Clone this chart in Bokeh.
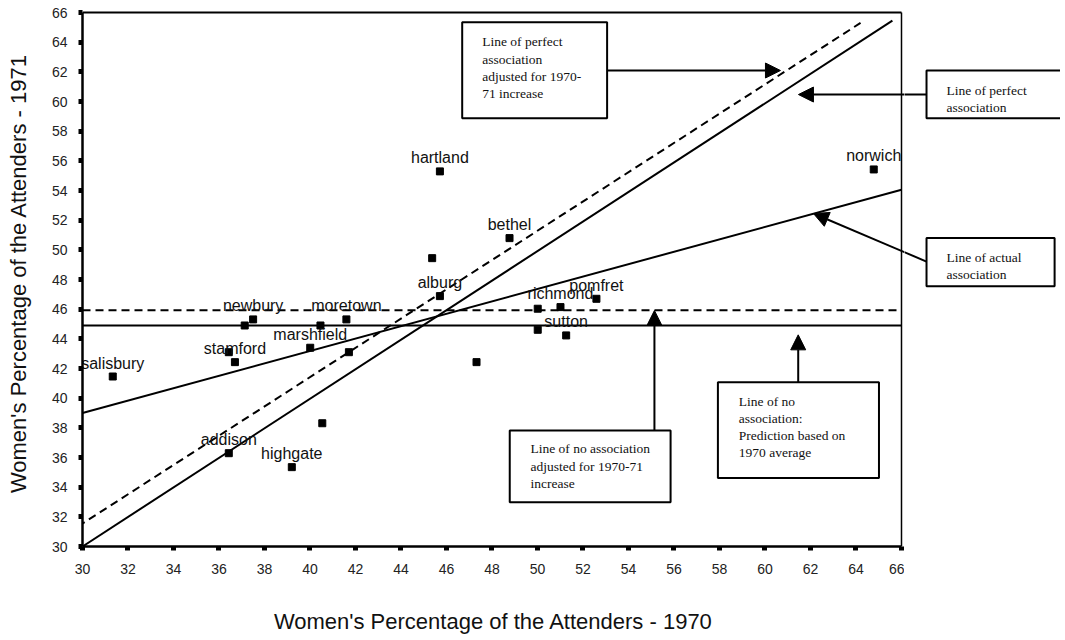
from bokeh.plotting import figure
from bokeh.layouts import row
from bokeh.models import Range1d, FixedTicker, Arrow, NormalHead, ColumnDataSource
from bokeh.core.properties import value
from bokeh.embed import file_html
from bokeh.resources import INLINE

# ---- data ----
pct_1970 = [31.33, 37.13, 37.50, 36.43, 36.70, 40.46, 41.60, 40.01, 41.71, 40.54,
            36.43, 39.20, 45.71, 45.37, 45.71, 48.77, 47.32, 50.01, 51.01, 50.01,
            51.26, 52.59, 64.78]
pct_1971 = [41.46, 44.90, 45.31, 43.10, 42.43, 44.90, 45.31, 43.40, 43.10, 38.31,
            36.29, 35.35, 55.29, 49.44, 46.88, 50.79, 42.43, 46.03, 46.14, 44.61,
            44.23, 46.70, 55.42]
town_names = ["salisbury", "", "newbury", "", "stamford", "", "moretown", "marshfield", "", "",
              "addison", "highgate", "hartland", "", "alburg", "bethel", "", "", "richmond", "",
              "sutton", "pomfret", "norwich"]

axis_ticks = list(range(30, 67, 2))

# reference lines
perfect_x = [30.0, 65.6]
perfect_y = [30.0, 65.45]
perfect_adj_x = [29.8, 64.2]
perfect_adj_y = [31.35, 65.3]
actual_x = [30.0, 66.0]
actual_y = [39.0, 54.05]
no_assoc_x = [30.0, 66.0]
no_assoc_y = [44.9, 44.9]
no_assoc_adj_x = [30.0, 65.8]
no_assoc_adj_y = [45.92, 45.92]

# annotation boxes: inside plot area (main) and right of it (side)
main_box_left = [46.69, 48.78, 57.93]
main_box_right = [53.06, 55.85, 65.01]
main_box_top = [65.35, 37.82, 41.08]
main_box_bottom = [58.88, 32.99, 34.61]
main_box_text = ["Line of perfect\nassociation\nadjusted for 1970-\n71 increase",
                 "Line of no association\nadjusted for 1970-71\nincrease",
                 "Line of no\nassociation:\nPrediction based on\n1970 average"]
main_text_x = [47.57, 49.69, 58.85]
main_text_y = [64.52, 37.08, 40.27]

side_box_left = [67.10, 67.10]
side_box_right = [76.0, 72.73]
side_box_top = [62.09, 50.79]
side_box_bottom = [58.88, 47.55]
side_box_text = ["Line of perfect\nassociation",
                 "Line of actual\nassociation"]
side_text_x = [67.98, 67.98]
side_text_y = [61.28, 50.0]

main_arrows = [(53.06, 62.09, 60.68, 62.09),
               (55.14, 37.82, 55.14, 45.91),
               (61.46, 41.08, 61.46, 44.27)]
cross_arrows = [(67.10, 60.47, 61.47, 60.47),
                (67.10, 49.21, 62.13, 52.45)]

SANS = "Liberation Sans"
SERIF = "Liberation Serif"

XSPLIT = 66.132
y_rng = Range1d(30, 66.81)

p = figure(width=904, height=636,
           x_range=Range1d(30, XSPLIT), y_range=y_rng,
           output_backend="svg", toolbar_location=None,
           min_border_left=82, min_border_right=0, min_border_top=0, min_border_bottom=90)
p2 = figure(width=156, height=636,
            x_range=Range1d(XSPLIT, XSPLIT + 156 / 22.75), y_range=y_rng,
            output_backend="svg", toolbar_location=None,
            x_axis_location=None, y_axis_location=None,
            min_border_left=0, min_border_right=0, min_border_top=0, min_border_bottom=90)
for fig in (p, p2):
    fig.background_fill_color = "white"
    fig.border_fill_color = "white"
    fig.outline_line_color = None
    fig.xgrid.visible = False
    fig.ygrid.visible = False

for ax in (p.xaxis[0], p.yaxis[0]):
    ax.bounds = (30, 66)
    ax.ticker = FixedTicker(ticks=axis_ticks)
    ax.axis_line_width = 2.5
    ax.axis_line_color = "black"
    ax.major_tick_in = 0
    ax.major_tick_out = 4
    ax.major_tick_line_width = 5
    ax.major_tick_line_color = "black"
    ax.minor_tick_line_color = None
    ax.major_label_text_font = SANS
    ax.major_label_text_font_size = "14px"
    ax.major_label_text_color = "#222222"
    ax.axis_label_text_font = SANS
    ax.axis_label_text_font_size = "22px"
    ax.axis_label_text_font_style = "normal"
    ax.axis_label_text_color = "#111111"
p.xaxis.major_label_standoff = 13
p.yaxis.major_label_standoff = 11
p.xaxis.axis_label = "Women's Percentage of the Attenders - 1970"
p.yaxis.axis_label = "Women's Percentage of the Attenders - 1971"
p.xaxis.axis_label_standoff = 32
p.yaxis.axis_label_standoff = 18

# frame top/right lines
p.line([30, 66], [66, 66], line_color="black", line_width=2)
p.line([66, 66], [30, 66], line_color="black", line_width=1.5)

# reference lines
p.line(perfect_x, perfect_y, line_color="black", line_width=2)
p.line(perfect_adj_x, perfect_adj_y, line_color="black", line_width=2, line_dash="8 5")
p.line(actual_x, actual_y, line_color="black", line_width=2)
p.line(no_assoc_x, no_assoc_y, line_color="black", line_width=2)
p.line(no_assoc_adj_x, no_assoc_adj_y, line_color="black", line_width=2, line_dash="8 5")

# points
src = ColumnDataSource(dict(x=pct_1970, y=pct_1971, name=town_names))
p.scatter("x", "y", source=src, marker="square", size=7, fill_color="black", line_color="black")
p.text("x", "y", text="name", source=src, text_font=value(SANS), text_font_size="16px",
       text_align="center", text_baseline="alphabetic", y_offset=-13.5, text_color="#111111")

# boxes with their texts
p.quad(left=main_box_left, right=main_box_right, top=main_box_top, bottom=main_box_bottom,
       fill_color="white", line_color="black", line_width=2)
p.text(main_text_x, main_text_y, text=main_box_text, text_font=value(SERIF), text_font_size="13.5px",
       text_align="left", text_baseline="top", text_line_height=1.14, text_color="#111111")
p2.quad(left=side_box_left, right=side_box_right, top=side_box_top, bottom=side_box_bottom,
        fill_color="white", line_color="black", line_width=2)
p2.text(side_text_x, side_text_y, text=side_box_text, text_font=value(SERIF), text_font_size="13.5px",
        text_align="left", text_baseline="top", text_line_height=1.14, text_color="#111111")


def add_arrow(fig, xs, ys, xe, ye):
    fig.add_layout(Arrow(end=NormalHead(size=15, fill_color="black", line_color="black", line_width=1),
                         x_start=xs, y_start=ys, x_end=xe, y_end=ye,
                         line_color="black", line_width=2))


for a in main_arrows:
    add_arrow(p, *a)
for a in cross_arrows:
    add_arrow(p, *a)
    add_arrow(p2, *a)

layout = row(p, p2)
open("out.html", "w").write(file_html(layout, INLINE))
